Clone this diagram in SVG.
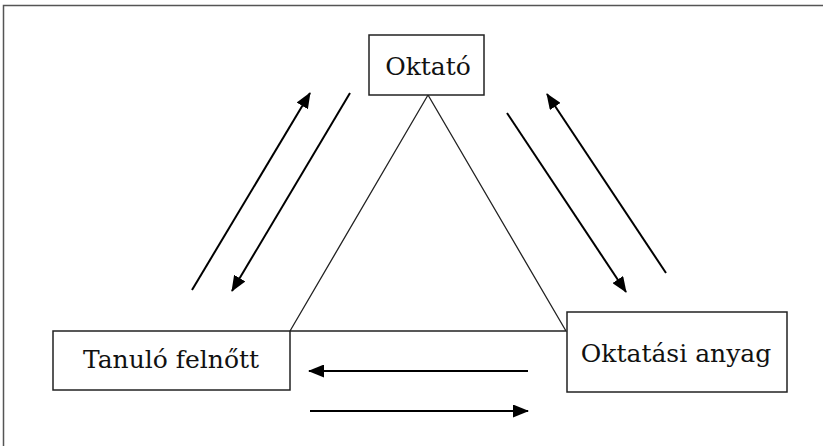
<svg xmlns="http://www.w3.org/2000/svg" width="823" height="446" viewBox="0 0 823 446">
  <style>
    .frame { fill: none; stroke: #555; stroke-width: 1.5; }
    .box { fill: #fff; stroke: #222; stroke-width: 1.5; }
    .tri { fill: none; stroke: #222; stroke-width: 1.3; }
    .flow { fill: none; stroke: #000; stroke-width: 2; }
    .label { font-family: "DejaVu Serif", "Liberation Serif", serif; font-size: 25px; fill: #111; text-anchor: middle; }
  </style>
  <defs>
    <marker id="head" viewBox="0 0 16 13" refX="15" refY="6.5" markerWidth="16" markerHeight="13" markerUnits="userSpaceOnUse" orient="auto">
      <path d="M0,0 L16,6.5 L0,13 Z" fill="#000"/>
    </marker>
  </defs>
  <rect width="823" height="446" fill="#fff"/>
  <!-- outer frame: top and left edges only -->
  <path class="frame" d="M3.5,446 V5.5 H823"/>

  <g id="connectors">
    <!-- triangle linking the three roles -->
    <path class="tri" d="M428,95 L290,331 L566,331 Z"/>
    <!-- Oktató / Tanuló felnőtt pair -->
    <line class="flow" x1="192" y1="290" x2="310" y2="93" marker-end="url(#head)"/>
    <line class="flow" x1="350" y1="93" x2="232" y2="291" marker-end="url(#head)"/>
    <!-- Oktató / Oktatási anyag pair -->
    <line class="flow" x1="507" y1="113" x2="626" y2="292" marker-end="url(#head)"/>
    <line class="flow" x1="666" y1="273" x2="547" y2="94" marker-end="url(#head)"/>
    <!-- Tanuló felnőtt / Oktatási anyag pair -->
    <line class="flow" x1="528" y1="371" x2="309" y2="371" marker-end="url(#head)"/>
    <line class="flow" x1="310" y1="411" x2="528" y2="411" marker-end="url(#head)"/>
  </g>

  <g id="oktato">
    <rect class="box" x="369" y="35" width="115" height="60"/>
    <text class="label" x="428" y="75">Oktató</text>
  </g>
  <g id="tanulo">
    <rect class="box" x="53" y="331" width="237" height="59"/>
    <text class="label" x="171" y="368">Tanuló felnőtt</text>
  </g>
  <g id="anyag">
    <rect class="box" x="567" y="312" width="220" height="80"/>
    <text class="label" x="676" y="362">Oktatási anyag</text>
  </g>
</svg>
